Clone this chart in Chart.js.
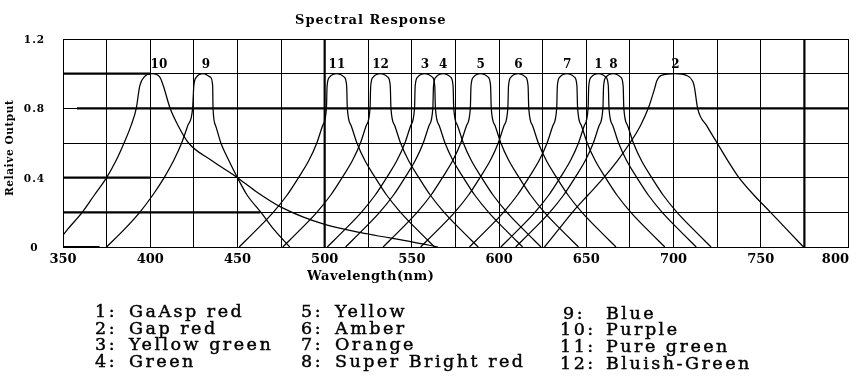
<!DOCTYPE html>
<html><head><meta charset="utf-8">
<script src="https://cdn.jsdelivr.net/npm/chart.js@4"></script>
<style>html,body{margin:0;padding:0;background:#fff}</style>
</head><body>
<canvas id="c" width="860" height="380"></canvas>
<script>
// ---- text ----
const titleText = 'Spectral Response';
const xTitle = 'Wavelength(nm)';
const yTitle = 'Relaive Output';
const xTickLabels = [350, 400, 450, 500, 550, 600, 650, 700, 750, 800];
const yTickLabels = [0, 0.4, 0.8, 1.2];
const yTickText = ['0', '0.4', '0.8', '1.2'];

// ---- series (wavelength nm / relative output) ----
const curveIds = ['1','2','3','4','5','6','7','8','9','10','11','12'];
const curveNames = ['GaAsp red','Gap red','Yellow green','Green','Yellow','Amber','Orange','Super Bright red','Blue','Purple','Pure green','Bluish-Green'];
const labelNm = [657, 701, 557.5, 568, 589.5, 611, 639, 665.5, 432, 405, 507, 532];

const narrowLevels = [0,0.1,0.2,0.3,0.4,0.5,0.6,0.7,0.8,0.93,0.98,1,0.98,0.93,0.8,0.7,0.6,0.5,0.4,0.3,0.2,0.1,0];
const c1nm  = [601,611,620.5,628.5,635,641,645.5,648.8,651,651.4,652.8,657,661.2,662.6,663,665.2,668.5,673,679,685.5,693.5,703,713];
const c3nm  = [501.5,511.5,521,529,535.5,541.5,546,549.3,551.5,551.9,553.3,557.5,561.7,563.1,563.5,565.7,569,573.5,579.5,586,594,603.5,613.5];
const c4nm  = [512,522,531.5,539.5,546,552,556.5,559.8,562,562.4,563.8,568,572.2,573.6,574,576.2,579.5,584,590,596.5,604.5,614,624];
const c5nm  = [533.5,543.5,553,561,567.5,573.5,578,581.3,583.5,583.9,585.3,589.5,593.7,595.1,595.5,597.7,601,605.5,611.5,618,626,635.5,645.5];
const c6nm  = [555,565,574.5,582.5,589,595,599.5,602.8,605,605.4,606.8,611,615.2,616.6,617,619.2,622.5,627,633,639.5,647.5,657,667];
const c7nm  = [583,593,602.5,610.5,617,623,627.5,630.8,633,633.4,634.8,639,643.2,644.6,645,647.2,650.5,655,661,667.5,675.5,685,695];
const c8nm  = [609.5,619.5,629,637,643.5,649.5,654,657.3,659.5,659.9,661.3,665.5,669.7,671.1,671.5,673.7,677,681.5,687.5,694,702,711.5,721.5];
const c9nm  = [375,385,394,401.5,408,413.5,418,421.5,424.3,425,426.5,430.5,434.5,435.8,436,437.5,440.5,445,450,455.5,463.5,471,480];
const c11nm = [451,461,470.5,478.5,485,491,495.5,498.8,501,501.4,502.8,507,511.2,512.6,513,515.2,518.5,523,529,535.5,543.5,553,563];
const c12nm = [476,486,495.5,503.5,510,516,520.5,523.8,526,526.4,527.8,532,536.2,537.6,538,540.2,543.5,548,554,560.5,568.5,578,588];

const c2nm  = [626,634,642,651,660,668,675,681,685.5,689.3,690.3,693,701,707.4,711,712,713.8,719,725,731,737.5,746,755.6,765,774.5];
const c2val = [0,0.1,0.2,0.3,0.4,0.5,0.6,0.7,0.8,0.92,0.956,0.99,1,0.99,0.956,0.92,0.8,0.7,0.6,0.5,0.4,0.3,0.2,0.1,0];
const c10nm  = [345,352.5,361,368,375,380.5,385,389,392,394,396.5,401,405.5,407.5,411.4,416,422,435,450,460,475,500,525,550,565];
const c10val = [0,0.1,0.2,0.3,0.4,0.5,0.6,0.7,0.8,0.93,0.98,1,0.98,0.93,0.8,0.7,0.6,0.5,0.4,0.325,0.23,0.13,0.075,0.03,0];

// heavy reference strokes of the original plot: [value, fromNm, toNm] and vertical nm
const heavyH = [[1.0,350,400],[0.8,358,800],[0.4,350,400],[0.2,350,463],[0,350,371]];
const heavyV = [500, 775];

// ---- build ----
const seriesNm  = [c1nm,c2nm,c3nm,c4nm,c5nm,c6nm,c7nm,c8nm,c9nm,c10nm,c11nm,c12nm];
const seriesVal = [narrowLevels,c2val,narrowLevels,narrowLevels,narrowLevels,narrowLevels,narrowLevels,narrowLevels,narrowLevels,c10val,narrowLevels,narrowLevels];

const datasets = [];
heavyH.forEach(h => datasets.push({data:[{x:h[1],y:h[0]},{x:h[2],y:h[0]}], borderWidth:2.2, borderColor:'#000', showLine:true, pointRadius:0}));
heavyV.forEach(v => datasets.push({data:[{x:v,y:0},{x:v,y:1.2}], borderWidth:2.2, borderColor:'#000', showLine:true, pointRadius:0}));
seriesNm.forEach((arr,i) => {
  datasets.push({
    label: curveIds[i] + ': ' + curveNames[i],
    data: arr.map((x,j) => ({x:x, y:seriesVal[i][j]})),
    showLine:true, pointRadius:0, borderColor:'#000', borderWidth:1.25,
    cubicInterpolationMode:'monotone'
  });
});

const SERIF = '"DejaVu Serif", "Liberation Serif", serif';
function setFont(ctx, f, ls) { ctx.font = f; if ('letterSpacing' in ctx) ctx.letterSpacing = (ls || 0) + 'px'; }
function heavyText(ctx, t, x, y) { ctx.fillText(t, x, y); ctx.strokeText(t, x, y); }
const textPlugin = {
  id:'texts',
  afterDraw(chart){
    const ctx = chart.ctx, xs = chart.scales.x, ys = chart.scales.y;
    ctx.save();
    ctx.fillStyle = '#000';
    ctx.strokeStyle = '#000';
    ctx.textBaseline = 'alphabetic';
    // title
    setFont(ctx, 'bold 13px ' + SERIF, 1); ctx.textAlign = 'left';
    ctx.fillText(titleText, 295, 24);
    // x tick labels
    setFont(ctx, 'bold 13px ' + SERIF, 0);
    xTickLabels.forEach((v,i) => {
      let px = xs.getPixelForValue(v);
      if (i === xTickLabels.length-1) { ctx.textAlign = 'right'; px = xs.right + 1; } else ctx.textAlign = 'center';
      ctx.fillText(String(v), px, 263);
    });
    // x title
    setFont(ctx, 'bold 13px ' + SERIF, 0.5); ctx.textAlign = 'left';
    ctx.fillText(xTitle, 307, 280);
    // y tick labels
    setFont(ctx, 'bold 10.5px ' + SERIF, 1); ctx.textAlign = 'center';
    yTickLabels.forEach((v,i) => ctx.fillText(yTickText[i], 34.5, ys.getPixelForValue(v) + 4));
    // y title
    ctx.save();
    ctx.translate(13, 196); ctx.rotate(-Math.PI/2);
    setFont(ctx, 'bold 10.5px ' + SERIF, 0.6); ctx.textAlign = 'left';
    ctx.fillText(yTitle, 0, 0);
    ctx.restore();
    // curve labels
    setFont(ctx, 'bold 12px ' + SERIF, 0); ctx.textAlign = 'center';
    curveIds.forEach((id,i) => ctx.fillText(id, xs.getPixelForValue(labelNm[i]), 68));
    // legend
    setFont(ctx, '17.5px ' + SERIF, 2.5); ctx.textAlign = 'left';
    ctx.lineWidth = 0.45;
    const rows = [317, 333.7, 350.3, 367];
    for (let r = 0; r < 4; r++) {
      heavyText(ctx, (r+1) + ':', 95, rows[r]);
      heavyText(ctx, curveNames[r], 129, rows[r]);
      heavyText(ctx, (r+5) + ':', 301, rows[r]);
      heavyText(ctx, curveNames[r+4], 335, rows[r]);
      heavyText(ctx, (r+9) + ':', r === 0 ? 563 : 560, rows[r] + 1.5);
      heavyText(ctx, curveNames[r+8], 606, rows[r] + 1.5);
    }
    ctx.restore();
  }
};

new Chart(document.getElementById('c'), {
  type:'scatter',
  data:{datasets},
  options:{
    responsive:false, animation:false, devicePixelRatio:1,
    layout:{padding:{left:63, right:12, top:39, bottom:133}},
    plugins:{legend:{display:false}, tooltip:{enabled:false}, title:{display:false}},
    scales:{
      x:{type:'linear', min:350, max:800, ticks:{display:false, stepSize:25},
         grid:{color:'#000', lineWidth:1, drawTicks:false}, border:{display:true, color:'#000', width:1}},
      y:{type:'linear', min:0, max:1.2, ticks:{display:false, stepSize:0.2},
         grid:{color:'#000', lineWidth:1, drawTicks:false}, border:{display:true, color:'#000', width:1}}
    }
  },
  plugins:[textPlugin]
});
</script>
</body></html>
